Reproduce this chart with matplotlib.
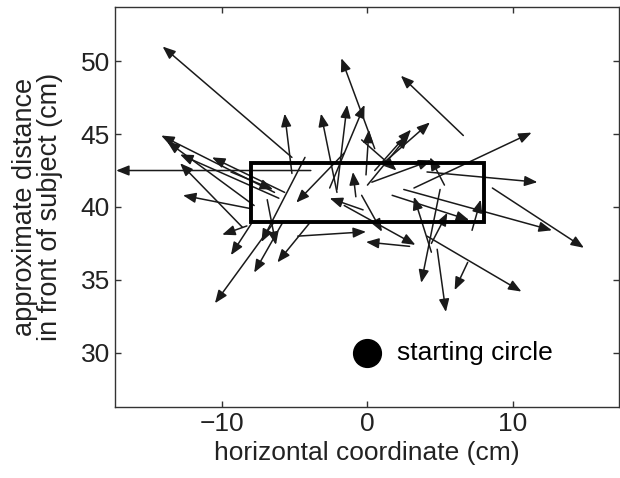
import matplotlib
matplotlib.use('Agg')
import matplotlib.pyplot as plt
from matplotlib.patches import Rectangle

plt.rcParams['font.family'] = ['Liberation Sans', 'DejaVu Sans']

# start (tail) and end (head) of every movement vector, in cm
x0 = [-5.2, -3.9, -6.4, -7.8, -6.1, -8.6, -5.7, -8.1, -8.3, -7.9, -6.4, -4.3,
      -6.9, -5.8, -3.9, -1.6, -4.8, 2.9, -5.2, -2.1, 0.5, -2.1, -2.6, -0.8,
      -0.3, 6.6, 3.2, 4.1, 1.2, 0.5, 0.0, -0.1, -0.4, 0.3, 5.3, 2.5, 8.6,
      1.7, 7.2, 4.4, 4.4, 5.0, 4.8, 6.9, 4.1, -1.6, -0.4, -9.4]
y0 = [43.4, 42.5, 41.0, 40.1, 40.6, 38.6, 41.0, 39.9, 38.7, 39.0, 39.0, 43.4,
      40.5, 39.0, 39.0, 43.7, 38.0, 37.3, 42.3, 41.0, 44.0, 41.2, 41.3, 40.7,
      39.8, 44.9, 41.3, 42.4, 43.1, 42.5, 41.5, 42.2, 44.6, 41.7, 41.5, 41.2,
      41.3, 40.8, 38.4, 36.9, 37.5, 41.2, 37.1, 36.2, 38.0, 40.1, 40.8, 42.4]
x1 = [-14.1, -17.3, -14.2, -13.8, -12.9, -12.9, -10.7, -12.7, -10.0, -9.4,
      -10.5, -7.3, -6.3, -7.8, -6.2, -4.9, -0.1, -0.1, -5.7, -3.2, -1.8, -1.4,
      -0.2, -1.0, -2.6, 2.3, 11.3, 11.7, 4.3, 3.0, 2.8, 0.1, 2.0, 4.4, 4.3,
      12.7, 14.9, 7.0, 7.8, 3.2, 5.5, 3.7, 5.4, 6.0, 10.6, 3.3, 1.0, -6.5]
y1 = [51.0, 42.5, 44.9, 44.5, 43.6, 43.0, 43.4, 40.8, 38.1, 36.7, 33.4, 37.6,
      37.4, 35.5, 36.2, 40.3, 38.3, 37.6, 46.4, 46.4, 50.2, 47.0, 47.0, 42.4,
      40.6, 49.0, 45.1, 41.7, 45.8, 45.3, 44.9, 45.3, 42.5, 43.2, 43.4, 38.4,
      37.2, 39.1, 40.5, 40.7, 39.6, 34.8, 32.8, 34.3, 34.2, 37.4, 38.3, 41.2]

# target box and starting circle
caja_x = [-8, 8]
caja_y = [39, 43]
inicio = (0, 30)

fig = plt.figure(figsize=(6.2, 4.78), dpi=100)
ax = fig.add_axes([0.185, 0.149, 0.813, 0.836])

for i in range(len(x0)):
    ax.annotate('', xy=(x1[i], y1[i]), xytext=(x0[i], y0[i]),
                arrowprops=dict(arrowstyle='-|>,head_length=0.55,head_width=0.22',
                                mutation_scale=14, lw=1.1, color='#1a1a1a',
                                shrinkA=0, shrinkB=0))

ax.add_patch(Rectangle((caja_x[0], caja_y[0]), caja_x[1] - caja_x[0],
                       caja_y[1] - caja_y[0], fill=False, lw=2.8,
                       edgecolor='black', zorder=3))

ax.plot(inicio[0], inicio[1], 'o', color='black', markersize=20)
ax.text(inicio[0] + 2.0, inicio[1], 'starting circle', fontsize=19,
        va='center', ha='left')

ax.set_xlim(-17.4, 17.3)
ax.set_ylim(26.3, 53.7)
ax.set_xticks([-10, 0, 10])
ax.set_yticks([30, 35, 40, 45, 50])
ax.tick_params(direction='in', length=4, width=1, labelsize=19,
               top=True, right=True, colors='#333333', labelcolor='#222222')
for s in ax.spines.values():
    s.set_color('#333333')
    s.set_linewidth(1.0)

ax.set_xlabel('horizontal coordinate (cm)', fontsize=19, color='#222222')
ax.set_ylabel('approximate distance\nin front of subject (cm)', fontsize=19.5,
              color='#222222', linespacing=0.95, labelpad=13)

fig.savefig('out.png', dpi=100)
